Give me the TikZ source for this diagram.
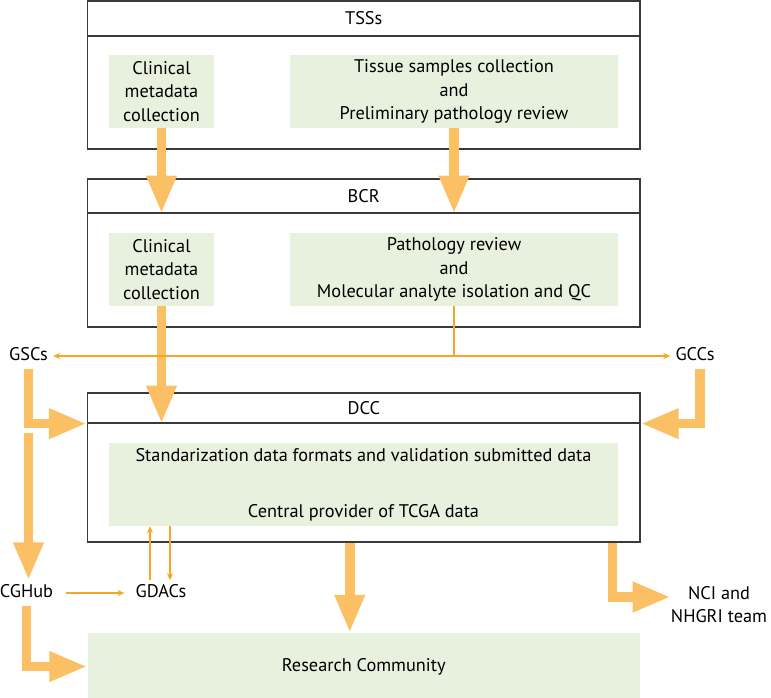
\documentclass[tikz,border=0pt]{standalone}
\usepackage{fontspec}
\setmainfont{PT Sans}
\usetikzlibrary{arrows.meta,calc}
\definecolor{arr}{HTML}{FBC064}
\definecolor{thinc}{HTML}{F5A623}
\definecolor{grn}{HTML}{E8F0DE}
\definecolor{frm}{HTML}{3A3A3A}
\begin{document}
\begin{tikzpicture}[x=1pt,y=-1pt,
 every node/.style={font=\fontsize{18.3pt}{23.3pt}\selectfont, inner sep=0pt},
 frame/.style={draw=frm, line width=1.3pt, minimum width=552.5pt},
 greenbox/.style={fill=grn, align=center},
 lbl/.style={inner sep=5pt, text height=12pt, text depth=3pt},
 bigarrow/.style={draw=arr, line width=9.5pt, line join=miter, -{Triangle[length=38pt,width=28pt]}},
 thinline/.style={draw=thinc, line width=1.2pt},
 thinarrow/.style={thinline, -{Stealth[length=7pt,width=6pt]}},
]
\useasboundingbox (0,0) rectangle (771,698);
% TSSs
\node[frame, minimum height=148pt] (tss) at (363.75,75) {};
\node[frame, minimum height=35pt, anchor=north] (tssh) at (tss.north) {TSSs};
\node[greenbox, minimum width=105pt, minimum height=73pt] (tclin) at (161.5,91.5) {Clinical\\metadata\\collection};
\node[greenbox, minimum width=328pt, minimum height=73pt] (ttis) at (454,91.5) {Tissue samples collection\\and\\Preliminary pathology review};
% BCR
\node[frame, minimum height=148pt] (bcr) at (363.75,253) {};
\node[frame, minimum height=34pt, anchor=north] (bcrh) at (bcr.north) {BCR};
\node[greenbox, minimum width=105pt, minimum height=73pt] (bclin) at (161.5,269.5) {Clinical\\metadata\\collection};
\node[greenbox, minimum width=328pt, minimum height=73pt] (bpat) at (454,269.5) {Pathology review\\and\\Molecular analyte isolation and QC};
% DCC
\node[frame, minimum height=149pt] (dcc) at (363.75,467.5) {};
\node[frame, minimum height=30pt, anchor=north] (dcch) at (dcc.north) {DCC};
\node[greenbox, minimum width=509pt, minimum height=83pt] (dccg) at (363.5,484.5) {Standarization data formats and validation submitted data\\[32.7pt]Central provider of TCGA data};
% Research
\node[fill=grn, minimum width=552.5pt, minimum height=67pt] (res) at (363.75,666.5) {Research Community};
% labels
\node[lbl] (gsc) at (28.5,356) {GSCs};
\node[lbl] (gcc) at (695,356) {GCCs};
\node[lbl] (cghub) at (26.5,593) {CGHub};
\node[lbl] (gdac) at (161,593) {GDACs};
\node[align=center, inner sep=5pt] (nci) at (719,604.5) {NCI and\\NHGRI team};
% thick arrows
\draw[bigarrow] (tclin.south) -- (tclin.south |- bcrh.south);
\draw[bigarrow] (ttis.south) -- (ttis.south |- bcrh.south);
\draw[bigarrow] (bclin.south) -- (bclin.south |- dcch.south);
\draw[bigarrow] (gsc.south) |- (dcch.south west);
\draw[bigarrow] ($(gsc.south |- dcch.south)+(0,9)$) -- (gsc.south |- cghub.north);
\draw[bigarrow] (cghub.south) |- (res.west);
\draw[bigarrow] ([xshift=5pt]gcc.south) |- (dcch.south east);
\draw[bigarrow] ([xshift=-14pt]dcc.south) -- ([xshift=-14pt]res.north);
\draw[bigarrow] ([xshift=-28pt]dcc.south east) |- ([yshift=7.5pt,xshift=5pt]nci.west);
% thin arrows
\draw[thinline] (bpat.south) -- (bpat.south |- gsc.east) coordinate (split);
\draw[thinarrow] (split) -- (gsc.east);
\draw[thinarrow] (split) -- (gcc.west);
\draw[thinarrow, shorten <=8pt, shorten >=6pt] (cghub.east) -- (gdac.west);
\draw[thinarrow] ([xshift=-11pt]gdac.north) -- ([xshift=-11pt]gdac.north |- dccg.south);
\draw[thinarrow] ([xshift=9pt]gdac.north |- dccg.south) -- ([xshift=9pt]gdac.north);
\end{tikzpicture}
\end{document}
